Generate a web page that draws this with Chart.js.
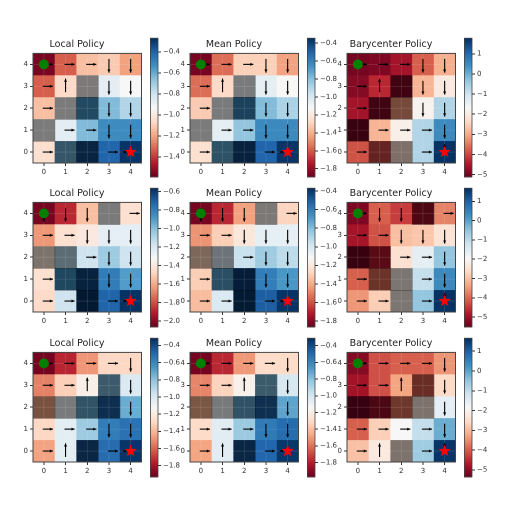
<!DOCTYPE html>
<html><head><meta charset="utf-8">
<script src="https://cdn.jsdelivr.net/npm/chart.js@4.4.0/dist/chart.umd.min.js"></script>
<style>body{margin:0;background:#fff;width:512px;height:512px;position:relative;overflow:hidden}canvas{position:absolute}</style>
</head><body>
<script>
// grid values, rows listed from y=4 (top) to y=0 (bottom)
const local1 = [[-1.56,-1.33,-1.13,-1.10,-1.20],[-1.33,-1.06,-0.95,-0.86,-0.93],[-1.13,-0.93,-0.53,-0.64,-0.73],[-0.93,-0.86,-0.64,-0.51,-0.51],[-1.04,-0.60,-0.33,-0.40,-0.28]];
const mean1  = [[-1.86,-1.55,-1.30,-1.30,-1.43],[-1.55,-1.27,-1.10,-1.04,-1.12],[-1.32,-1.10,-0.60,-0.78,-0.87],[-1.12,-1.04,-0.81,-0.62,-0.62],[-1.24,-0.70,-0.40,-0.50,-0.36]];
const bary1  = [[-4.97,-4.90,-4.56,-3.73,-2.90],[-4.83,-4.28,-4.90,-2.84,-2.00],[-4.56,-4.90,-3.20,-1.80,-0.63],[-5.00,-2.84,-1.87,-0.63,0.54],[-3.87,-4.00,-2.20,-0.63,1.75]];
const local2 = [[-2.03,-1.88,-1.54,-1.30,-1.43],[-1.64,-1.43,-1.39,-1.24,-1.24],[-1.40,-1.10,-1.16,-1.04,-1.16],[-1.43,-0.85,-0.62,-0.79,-0.89],[-1.46,-1.16,-0.57,-0.71,-0.57]];
const mean2  = [[-1.83,-1.68,-1.42,-1.15,-1.28],[-1.45,-1.30,-1.20,-1.05,-1.05],[-1.30,-1.00,-0.95,-0.85,-0.92],[-1.30,-0.70,-0.40,-0.60,-0.68],[-1.35,-1.00,-0.38,-0.50,-0.38]];
const bary2  = [[-5.28,-4.06,-4.40,-5.00,-3.70],[-4.90,-4.20,-3.00,-2.90,-2.40],[-5.40,-4.80,-2.50,-1.55,-0.50],[-4.06,-4.00,-2.20,-1.05,0.40],[-3.50,-2.80,-2.20,-0.50,1.65]];
const local3 = [[-1.90,-1.74,-1.48,-1.29,-1.29],[-1.53,-1.32,-1.17,-0.75,-1.00],[-1.45,-1.10,-0.70,-0.45,-0.72],[-1.29,-1.04,-0.83,-0.56,-0.52],[-1.45,-1.04,-0.40,-0.50,-0.33]];
const mean3  = [[-1.94,-1.77,-1.50,-1.30,-1.30],[-1.55,-1.33,-1.18,-0.75,-1.00],[-1.45,-1.10,-0.70,-0.45,-0.70],[-1.30,-1.05,-0.83,-0.55,-0.50],[-1.47,-1.05,-0.40,-0.48,-0.33]];
const bary3  = [[-5.07,-4.10,-3.95,-3.95,-3.40],[-4.80,-4.10,-3.25,-4.00,-2.55],[-5.30,-4.90,-3.80,-2.30,-1.50],[-3.95,-2.70,-1.85,-1.00,-0.10],[-2.90,-2.20,-2.30,-0.60,1.60]];
// obstacle cells [x,y]
const walls1 = [[2,3],[1,2],[2,2],[0,1],[1,0],[2,0]];
const walls2 = [[3,4],[0,2],[1,2],[1,1],[2,1],[2,0]];
const walls3 = [[3,3],[0,2],[1,2],[2,2],[3,2],[2,0]];
// arrows, rows from y=4 to y=0; r,l,u,d; '' none; goal arrows short
const arrowsLM1 = [['r','r','r','d','d'],['r','u','','d','d'],['r','','','d','d'],['','r','r','d','d'],['r','','','r','l']];
const arrowsB1  = [['r','r','r','d','d'],['r','u','','d','d'],['r','','','d','d'],['','r','r','r','d'],['r','','','r','u']];
const arrowsLM2 = [['d','d','d','','r'],['r','r','d','d','d'],['','','r','d','d'],['r','','','d','d'],['r','r','','r','l']];
const arrowsB2  = [['r','d','d','','r'],['r','r','d','d','d'],['','','r','r','d'],['r','','','r','d'],['r','r','','r','u']];
const arrowsLM3 = [['r','r','r','r','d'],['r','r','u','','d'],['','','','','d'],['r','r','r','d','d'],['r','u','','r','l']];
const arrowsB3  = [['r','r','r','r','d'],['r','r','u','','d'],['','','','','d'],['r','r','r','r','d'],['r','u','','r','u']];
// colour ranges [min,max] and colourbar tick steps
const ranges = [[-1.59,-0.27],[-1.89,-0.345],[-5.11,1.78],[-2.06,-0.565],[-1.86,-0.37],[-5.5,1.68],[-1.93,-0.316],[-1.97,-0.31],[-5.35,1.66]];
const cbSteps = [0.2,0.2,1,0.2,0.2,1,0.2,0.2,1];
const titles = ['Local Policy','Mean Policy','Barycenter Policy'];
const gridTicks = [0,1,2,3,4];
const startCell = [0,4], goalCell = [4,0];

const panels = [
 [local1,walls1,arrowsLM1],[mean1,walls1,arrowsLM1],[bary1,walls1,arrowsB1],
 [local2,walls2,arrowsLM2],[mean2,walls2,arrowsLM2],[bary2,walls2,arrowsB2],
 [local3,walls3,arrowsLM3],[mean3,walls3,arrowsLM3],[bary3,walls3,arrowsB3]];

const stops=['#67001f','#b2182b','#d6604d','#f4a582','#fddbc7','#f7f7f7','#d1e5f0','#92c5de','#4393c3','#2166ac','#053061'].map(h=>[parseInt(h.substr(1,2),16),parseInt(h.substr(3,2),16),parseInt(h.substr(5,2),16)]);
function cmap(t){t=Math.max(0,Math.min(1,t));const s=t*10,i=Math.min(9,Math.floor(s)),f=s-i,a=stops[i],b=stops[i+1];
 return `rgb(${a.map((v,k)=>Math.round(v+(b[k]-v)*f)).join(',')})`;}

const colL=[33,190,347], rowT=[53,202,352], cbL=[150,307,464], cbT=[37,187,337], S=110, CBH=141;
const tickFont={size:7,family:'DejaVu Sans'};

function arrow(ctx,x0,y0,x1,y1){ctx.beginPath();ctx.moveTo(x0,y0);ctx.lineTo(x1,y1);ctx.stroke();
 const a=Math.atan2(y1-y0,x1-x0),h=3.5;ctx.beginPath();ctx.moveTo(x1,y1);
 ctx.lineTo(x1-h*Math.cos(a-0.45),y1-h*Math.sin(a-0.45));ctx.lineTo(x1-h*Math.cos(a+0.45),y1-h*Math.sin(a+0.45));ctx.closePath();ctx.fill();}

panels.forEach((p,i)=>{
 const [vals,walls,arrs]=p, r=Math.floor(i/3), c=i%3, [vmin,vmax]=ranges[i];
 const cv=document.createElement('canvas');
 cv.style.left=(colL[c]-22)+'px';cv.style.top=(rowT[r]-14)+'px';cv.style.width='136px';cv.style.height='142px';
 document.body.appendChild(cv);
 const heat={id:'heat'+i,
  beforeDatasetsDraw(ch){const ctx=ch.ctx,xs=ch.scales.x,ys=ch.scales.y;ctx.save();
   vals.forEach((row,ri)=>row.forEach((v,ci)=>{const gy=4-ri;
     const x0=xs.getPixelForValue(ci-0.5),x1=xs.getPixelForValue(ci+0.5),y0=ys.getPixelForValue(gy+0.5),y1=ys.getPixelForValue(gy-0.5);
     ctx.fillStyle=cmap((v-vmin)/(vmax-vmin));ctx.fillRect(x0,y0,x1-x0+0.5,y1-y0+0.5);}));
   walls.forEach(([wx,wy])=>{const x0=xs.getPixelForValue(wx-0.5),x1=xs.getPixelForValue(wx+0.5),y0=ys.getPixelForValue(wy+0.5),y1=ys.getPixelForValue(wy-0.5);
     ctx.fillStyle='rgba(0,0,0,0.5)';ctx.fillRect(x0,y0,x1-x0+0.5,y1-y0+0.5);});
   ctx.strokeStyle='rgba(255,255,255,0.18)';ctx.lineWidth=0.6;
   gridTicks.forEach(t=>{const x=xs.getPixelForValue(t),y=ys.getPixelForValue(t);ctx.beginPath();ctx.moveTo(x,ch.chartArea.top);ctx.lineTo(x,ch.chartArea.bottom);ctx.moveTo(ch.chartArea.left,y);ctx.lineTo(ch.chartArea.right,y);ctx.stroke();});
   ctx.strokeStyle='#000';ctx.fillStyle='#000';ctx.lineWidth=1.1;
   arrs.forEach((row,ri)=>row.forEach((d,ci)=>{if(!d)return;const gy=4-ri;
     const goal=(ci===goalCell[0]&&gy===goalCell[1]);
     let a,b;
     if(d==='r'){a=[ci-0.05,gy];b=[ci+0.42,gy];}
     if(d==='l'){a=goal?[ci-0.2,gy]:[ci+0.05,gy];b=goal?[ci-0.36,gy]:[ci-0.42,gy];}
     if(d==='d'){a=[ci,gy+0.25];b=[ci,gy-0.38];}
     if(d==='u'){a=goal?[ci,gy+0.22]:[ci,gy-0.27];b=goal?[ci,gy+0.36]:[ci,gy+0.35];}
     arrow(ctx,xs.getPixelForValue(a[0]),ys.getPixelForValue(a[1]),xs.getPixelForValue(b[0]),ys.getPixelForValue(b[1]));}));
   ctx.restore();},
  afterDatasetsDraw(ch){const ctx=ch.ctx,xs=ch.scales.x,ys=ch.scales.y,a=ch.chartArea;ctx.save();
   const cx=xs.getPixelForValue(goalCell[0]),cy=ys.getPixelForValue(goalCell[1]),R=6.5,r2=2.7;
   ctx.beginPath();for(let k=0;k<10;k++){const rr=k%2?r2:R,an=-Math.PI/2+k*Math.PI/5;ctx.lineTo(cx+rr*Math.cos(an),cy+rr*Math.sin(an));}
   ctx.closePath();ctx.fillStyle='#ff0000';ctx.fill();
   ctx.strokeStyle='#444';ctx.lineWidth=1;ctx.strokeRect(a.left,a.top,a.right-a.left,a.bottom-a.top);ctx.restore();}};
 new Chart(cv,{type:'scatter',
  data:{datasets:[{data:[{x:startCell[0],y:startCell[1]}],pointRadius:4.5,pointHoverRadius:4.5,backgroundColor:'#008000',borderColor:'#008000',pointStyle:'circle'}]},
  options:{responsive:false,animation:false,events:[],devicePixelRatio:2,
   layout:{padding:{left:0,right:4,top:0,bottom:0}},
   plugins:{legend:{display:false},tooltip:{enabled:false},
    title:{display:true,text:titles[c],color:'#222',font:{size:9.5,family:'DejaVu Sans',weight:'normal'},padding:{top:0,bottom:3}}},
   scales:{
    x:{type:'linear',min:-0.5,max:4.5,afterFit(s){s.height=18;},afterBuildTicks(s){s.ticks=gridTicks.map(v=>({value:v}));},
     ticks:{font:tickFont,color:'#333',padding:2,maxRotation:0,callback:v=>String(v)},grid:{color:'transparent',tickColor:'#333',tickLength:3},border:{display:false}},
    y:{type:'linear',min:-0.5,max:4.5,afterFit(s){s.width=22;},afterBuildTicks(s){s.ticks=gridTicks.map(v=>({value:v}));},
     ticks:{font:tickFont,color:'#333',padding:2,callback:v=>String(v)},grid:{color:'transparent',tickColor:'#333',tickLength:3},border:{display:false}}}},
  plugins:[heat]});

 // colour bar
 const cb=document.createElement('canvas');
 cb.style.left=cbL[c]+'px';cb.style.top=(cbT[r]-5)+'px';cb.style.width='46px';cb.style.height=(CBH+10)+'px';
 document.body.appendChild(cb);
 const step=cbSteps[i];
 const grad={id:'cb'+i,afterDraw(ch){const ctx=ch.ctx,ys=ch.scales.y;ctx.save();
   const L=0,R=8,n=140;for(let k=0;k<n;k++){const v0=vmin+(vmax-vmin)*k/n,v1=vmin+(vmax-vmin)*(k+1)/n;
    const y0=ys.getPixelForValue(v1),y1=ys.getPixelForValue(v0);ctx.fillStyle=cmap((k+0.5)/n);ctx.fillRect(L,y0,R-L,y1-y0+0.6);}
   const t=ys.getPixelForValue(vmax),b=ys.getPixelForValue(vmin);
   ctx.strokeStyle='#444';ctx.lineWidth=0.8;ctx.strokeRect(L+0.4,t,R-L-0.4,b-t);ctx.restore();}};
 new Chart(cb,{type:'scatter',data:{datasets:[{data:[]}]},
  options:{responsive:false,animation:false,events:[],devicePixelRatio:2,
   layout:{padding:{left:8,right:0,top:5,bottom:5}},
   plugins:{legend:{display:false},tooltip:{enabled:false}},
   scales:{x:{display:false,min:0,max:1},
    y:{type:'linear',position:'right',min:vmin,max:vmax,afterFit(s){s.width=38;},
     afterBuildTicks(s){const t=[];for(let k=Math.ceil(vmin/step-1e-9);k<=Math.floor(vmax/step+1e-9);k++)t.push({value:Math.round(k*step*100)/100});s.ticks=t;},
     ticks:{font:tickFont,color:'#333',padding:2,callback:v=>(v<0?'\u2212':'')+Math.abs(v).toFixed(step<1?1:0)},
     grid:{color:'transparent',tickColor:'#333',tickLength:3},border:{display:false}}}},
  plugins:[grad]});
});
</script>
</body></html>
